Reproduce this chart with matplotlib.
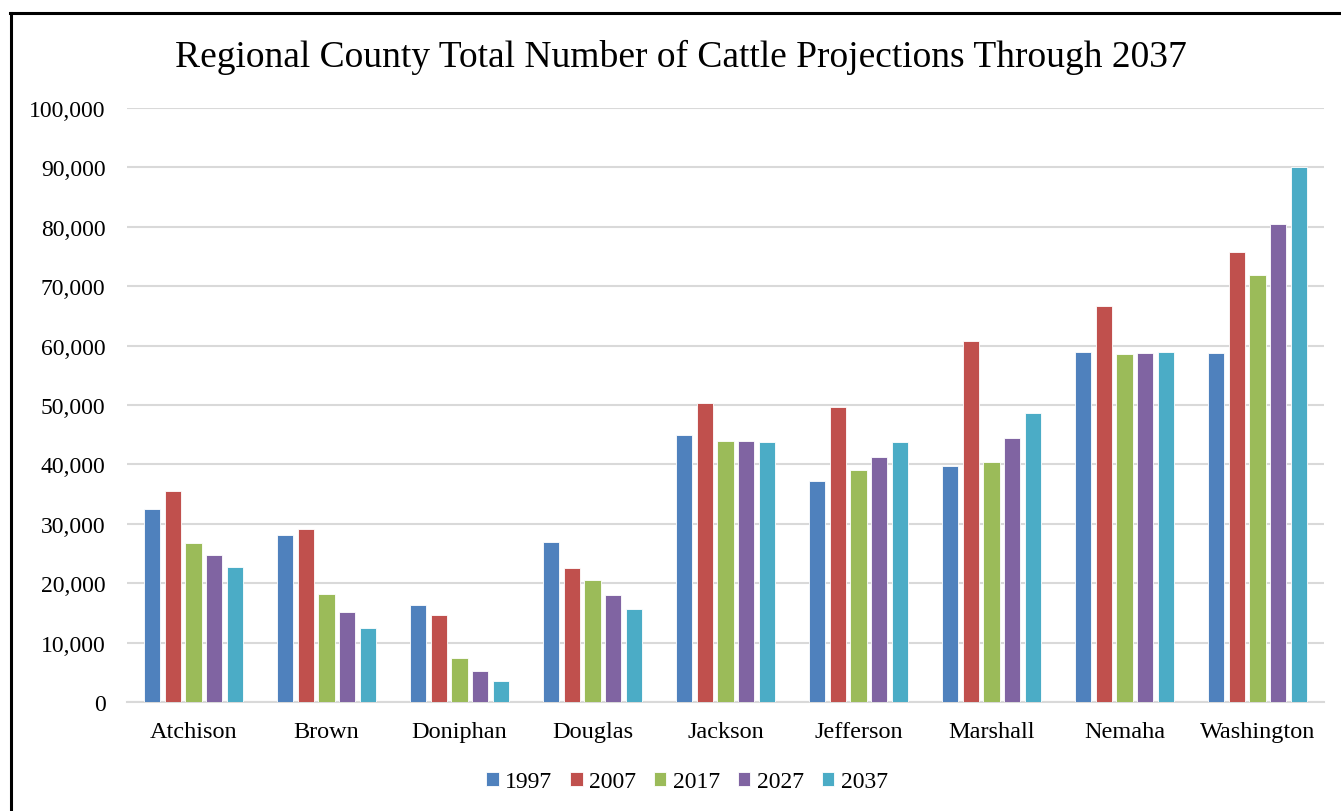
import matplotlib
matplotlib.use("Agg")
import matplotlib.pyplot as plt
import numpy as np
from matplotlib.lines import Line2D

counties = ["Atchison", "Brown", "Doniphan", "Douglas", "Jackson",
            "Jefferson", "Marshall", "Nemaha", "Washington"]
years = ["1997", "2007", "2017", "2027", "2037"]
v1997 = [32500, 28100, 16300, 26900, 44900, 37200, 39800, 59000, 58700]
v2007 = [35600, 29100, 14600, 22600, 50400, 49600, 60700, 66600, 75700]
v2017 = [26700, 18100, 7400, 20500, 44000, 39000, 40400, 58600, 71900]
v2027 = [24700, 15100, 5200, 18000, 43900, 41300, 44400, 58700, 80500]
v2037 = [22800, 12500, 3600, 15700, 43800, 43800, 48600, 58900, 90100]
series = [v1997, v2007, v2017, v2027, v2037]
colors = ["#4F81BD", "#C0504D", "#9BBB59", "#8064A2", "#4BACC6"]
yticks = [0, 10000, 20000, 30000, 40000, 50000, 60000, 70000, 80000, 90000, 100000]

plt.rcParams['font.family'] = ['Liberation Serif', 'DejaVu Serif']

W, H = 1341, 812
fig = plt.figure(figsize=(W / 100, H / 100), dpi=100)
fig.patch.set_facecolor("white")

# outer frame (top and left visible)
fig.add_artist(Line2D([10.5 / W, 10.5 / W], [0, 1 - 13.5 / H], transform=fig.transFigure,
                      color="black", lw=2.2))
fig.add_artist(Line2D([9.5 / W, 1], [1 - 13.5 / H, 1 - 13.5 / H], transform=fig.transFigure,
                      color="black", lw=2.2))

ax = fig.add_axes([127 / W, 1 - 703 / H, (1324 - 127) / W, (703 - 109) / H])
x = np.arange(len(counties))
slot = 0.155
bw = 0.122
for i, (vals, c) in enumerate(zip(series, colors)):
    ax.bar(x + (i - 2) * slot, vals, width=bw, color=c, edgecolor="white",
           linewidth=0.6, label=years[i], zorder=3)

ax.set_xlim(-0.5, len(counties) - 0.5)
ax.set_ylim(0, 100000)
ax.set_yticks(yticks)
ax.set_yticklabels([f"{t:,}" for t in yticks], fontsize=17)
ax.set_xticks(x)
ax.set_xticklabels(counties, fontsize=17.5)
ax.tick_params(axis="both", length=0)
ax.tick_params(axis="y", pad=15.5)
ax.tick_params(axis="x", pad=14)
ax.grid(axis="y", color="#D9D9D9", lw=1.5, zorder=0)
for s in ["top", "right", "left"]:
    ax.spines[s].set_visible(False)
ax.spines["bottom"].set_color("#D9D9D9")
ax.spines["bottom"].set_linewidth(1.5)
ax.set_axisbelow(True)

fig.text(681 / W, 1 - 57 / H, "Regional County Total Number of Cattle Projections Through 2037",
         ha="center", va="center", fontsize=27)

leg = fig.legend(loc="center", bbox_to_anchor=(687 / W, 1 - 783 / H), ncol=5, frameon=False,
                 fontsize=17, handlelength=0.52, handleheight=0.52, handletextpad=0.28,
                 columnspacing=0.76)

fig.savefig("out.png", dpi=100, facecolor="white")
